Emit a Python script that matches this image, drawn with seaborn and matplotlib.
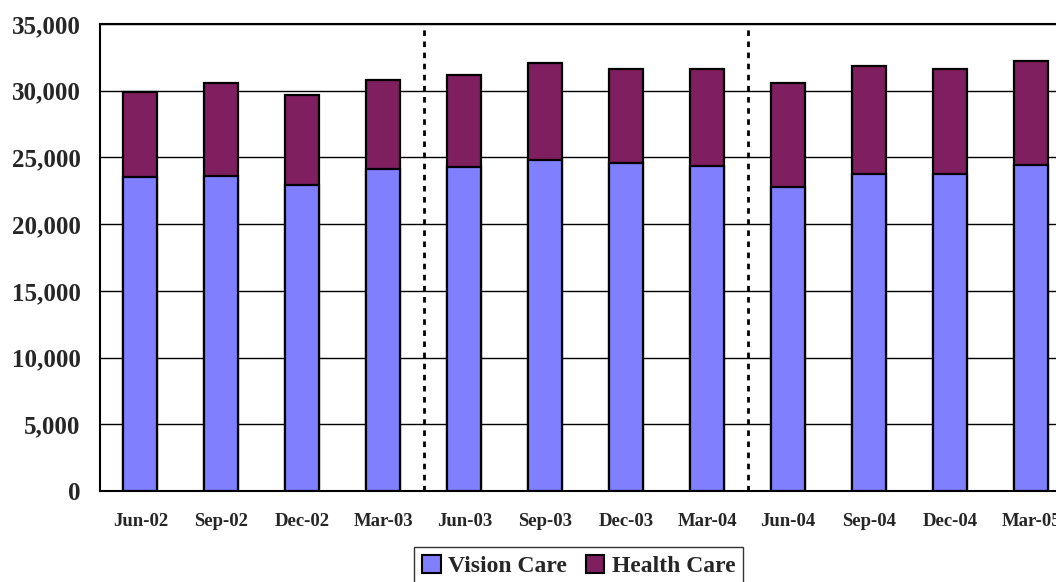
import matplotlib.pyplot as plt
import pandas as pd
import seaborn as sns
from matplotlib.patches import Patch
from matplotlib.ticker import FuncFormatter, MultipleLocator

# Datos (numero de clientes por trimestre)
trimestres = ["Jun-02", "Sep-02", "Dec-02", "Mar-03", "Jun-03", "Sep-03",
              "Dec-03", "Mar-04", "Jun-04", "Sep-04", "Dec-04", "Mar-05"]
vision_care = [23500, 23600, 22900, 24100, 24250, 24800,
               24600, 24350, 22800, 23750, 23750, 24450]
health_care = [6400, 6950, 6750, 6700, 6900, 7250,
               7050, 7250, 7750, 8100, 7850, 7800]
separadores = [3.5, 7.5]

COLOR_VISION = "#8080FF"
COLOR_HEALTH = "#7F1F5F"

df = pd.DataFrame({"trimestre": trimestres, "vision": vision_care, "health": health_care})
df["total"] = df["vision"] + df["health"]

sns.set_style("white")
plt.rcParams["font.family"] = ["Liberation Serif", "DejaVu Serif"]
plt.rcParams["font.weight"] = "bold"

fig = plt.figure(figsize=(10.56, 5.82), dpi=100)
# El area de dibujo se sale por la derecha, como en el original recortado
ax = fig.add_axes([100 / 1056, 91 / 582, 971.5 / 1056, 467 / 582])

# Barras apiladas: primero el total (Health Care encima), luego Vision Care
sns.barplot(data=df, x="trimestre", y="total", color=COLOR_HEALTH, saturation=1,
            width=0.42, edgecolor="black", linewidth=1.6, ax=ax, zorder=3)
sns.barplot(data=df, x="trimestre", y="vision", color=COLOR_VISION, saturation=1,
            width=0.42, edgecolor="black", linewidth=1.6, ax=ax, zorder=4)

for xs in separadores:
    ax.axvline(xs, color="black", linestyle=(0, (2, 2)), linewidth=2, zorder=5)

ax.set_ylim(0, 35000)
ax.set_xlim(-0.5, len(trimestres) - 0.5)
ax.yaxis.set_major_locator(MultipleLocator(5000))
ax.yaxis.set_major_formatter(FuncFormatter(lambda v, _: f"{v:,.0f}"))
ax.grid(axis="y", color="black", linewidth=1, zorder=0)
ax.set_axisbelow(True)

ax.set_xlabel("")
ax.set_ylabel("")
ax.tick_params(axis="y", length=0, pad=14, labelsize=18)
ax.tick_params(axis="x", length=0, pad=16, labelsize=13.5)
for lbl in ax.get_xticklabels() + ax.get_yticklabels():
    lbl.set_fontweight("bold")

for lado in ["left", "bottom", "top", "right"]:
    ax.spines[lado].set_color("black")
    ax.spines[lado].set_linewidth(1.5)

handles = [
    Patch(facecolor=COLOR_VISION, edgecolor="black", linewidth=1.5, label="Vision Care"),
    Patch(facecolor=COLOR_HEALTH, edgecolor="black", linewidth=1.5, label="Health Care"),
]
leg = fig.legend(handles=handles, loc="upper center", bbox_to_anchor=(578.5 / 1056, 1 - 547 / 582),
                 ncol=2, frameon=True, fancybox=False, handlelength=0.8, handleheight=0.8,
                 handletextpad=0.3, columnspacing=0.8, borderpad=0.35, borderaxespad=0,
                 prop={"size": 17, "weight": "bold"})
leg.get_frame().set_edgecolor("black")
leg.get_frame().set_linewidth(1)

fig.savefig("out.png", dpi=100)
